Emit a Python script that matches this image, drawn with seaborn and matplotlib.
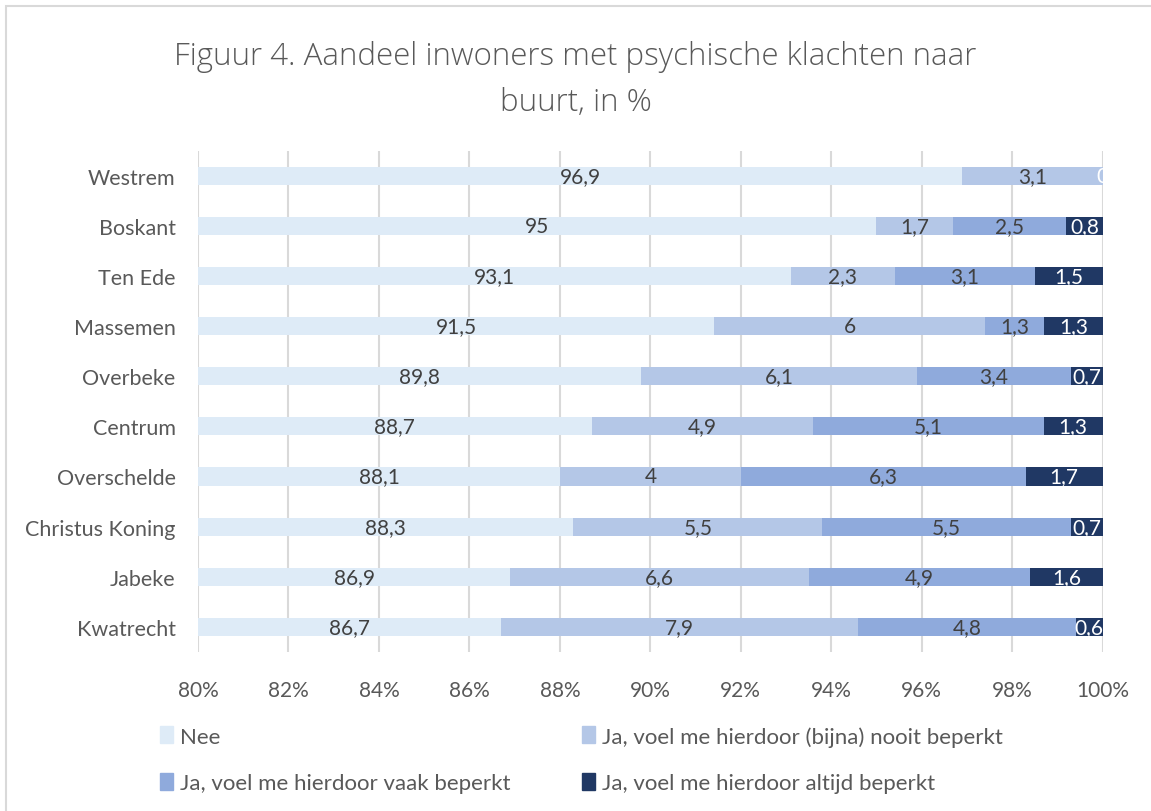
import matplotlib
matplotlib.use("Agg")
import matplotlib.pyplot as plt
import matplotlib.patches as mpatches
import numpy as np
import pandas as pd
import seaborn as sns

buurten = ["Westrem", "Boskant", "Ten Ede", "Massemen", "Overbeke", "Centrum",
           "Overschelde", "Christus Koning", "Jabeke", "Kwatrecht"]
nee = [96.9, 95, 93.1, 91.5, 89.8, 88.7, 88.1, 88.3, 86.9, 86.7]
nooit = [3.1, 1.7, 2.3, 6, 6.1, 4.9, 4, 5.5, 6.6, 7.9]
vaak = [np.nan, 2.5, 3.1, 1.3, 3.4, 5.1, 6.3, 5.5, 4.9, 4.8]
altijd = [0, 0.8, 1.5, 1.3, 0.7, 1.3, 1.7, 0.7, 1.6, 0.6]

series = ["Nee", "Ja, voel me hierdoor (bijna) nooit beperkt",
          "Ja, voel me hierdoor vaak beperkt", "Ja, voel me hierdoor altijd beperkt"]
colors = ["#DEEBF7", "#B4C7E7", "#8FAADC", "#203864"]
label_colors = ["#404040", "#404040", "#404040", "white"]

sns.set_theme(style="white")
plt.rcParams["font.family"] = ["Lato", "DejaVu Sans"]

df = pd.DataFrame({"buurt": buurten, series[0]: nee, series[1]: nooit,
                   series[2]: vaak, series[3]: altijd})
vals = df[series].fillna(0)
pct = vals.div(vals.sum(axis=1), axis=0) * 100
cum = pct.cumsum(axis=1)

XMIN, XMAX = 80, 100

fig = plt.figure(figsize=(11.51, 8.12), dpi=100)
ax = fig.add_axes([0.172, 0.196, 0.786, 0.617])

# draw cumulative totals from largest to smallest so each segment shows
for i in range(3, -1, -1):
    sns.barplot(x=cum[series[i]], y=df["buurt"], orient="h", color=colors[i],
                saturation=1, width=0.36, linewidth=0, ax=ax, zorder=2)

for i, s in enumerate(series):
    for j, b in enumerate(buurten):
        v = df[s].iloc[j]
        if pd.isna(v):
            continue
        end = cum[s].iloc[j]
        start = max(end - pct[s].iloc[j], XMIN)
        txt = f"{v:g}".replace(".", ",")
        ax.text((start + end) / 2, j, txt, ha="center", va="center", fontsize=15,
                color=label_colors[i], zorder=3)

ax.set_xlim(XMIN, XMAX)
ax.set_ylim(9.5, -0.5)
ticks = np.arange(80, 101, 2)
ax.set_xticks(ticks)
ax.set_xticklabels([f"{t}%" for t in ticks])
ax.grid(axis="x", color="#D9D9D9", linewidth=1.5, zorder=0)
ax.set_axisbelow(True)
for sp in ax.spines.values():
    sp.set_visible(False)
ax.set_xlabel("")
ax.set_ylabel("")
ax.tick_params(axis="both", length=0, labelcolor="#595959")
ax.tick_params(axis="x", pad=20, labelsize=15)
ax.tick_params(axis="y", pad=16, labelsize=15.5)

title_font = dict(ha="center", va="center", fontsize=22.5, color="#595959",
                  fontweight="light", family=["Open Sans", "DejaVu Sans"])
fig.text(0.5, 0.93, "Figuur 4. Aandeel inwoners met psychische klachten naar",
         **title_font)
fig.text(0.5, 0.873, "buurt, in %", **title_font)

handles = [mpatches.Patch(color=c) for c in colors]
order = [0, 2, 1, 3]
ax.legend([handles[k] for k in order], [series[k] for k in order], ncol=2,
          loc="upper left", bbox_to_anchor=(-0.042, -0.148), frameon=False,
          borderaxespad=0, borderpad=0,
          fontsize=16, labelcolor="#595959", handlelength=0.6, handleheight=0.8,
          handletextpad=0.3, columnspacing=3.2, labelspacing=1.2)

fig.add_artist(mpatches.Rectangle((6 / 1151, -0.1), 1.2, 1 - 7 / 812 + 0.1,
                                  transform=fig.transFigure, fill=False,
                                  edgecolor="#D9D9D9", linewidth=1.5))

fig.savefig("out.png", dpi=100)
